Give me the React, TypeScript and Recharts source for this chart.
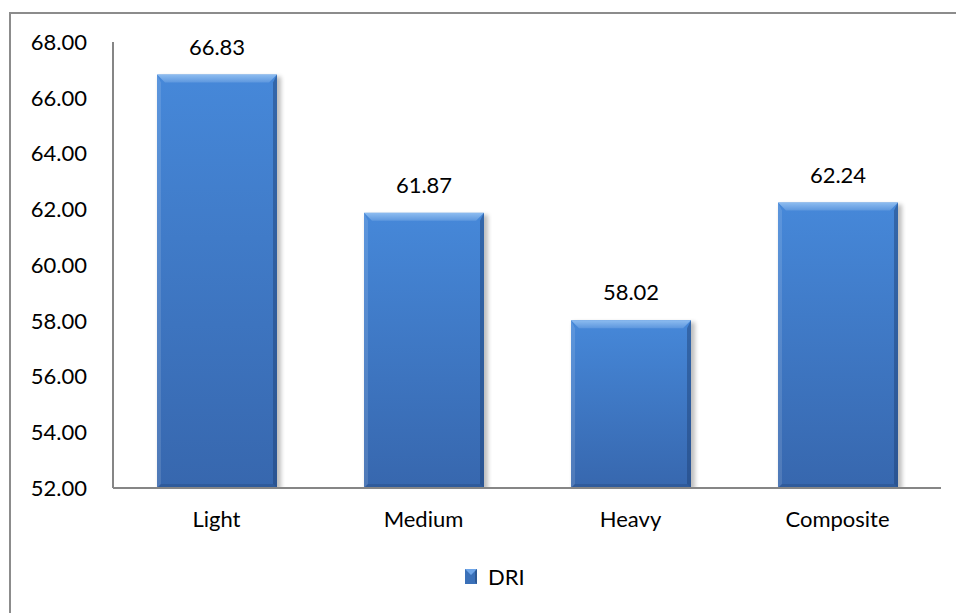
import { BarChart, Bar, XAxis, YAxis, LabelList } from 'recharts';

const categories = ['Light', 'Medium', 'Heavy', 'Composite'];
const driValues = [66.83, 61.87, 58.02, 62.24];
const yTicks = [52, 54, 56, 58, 60, 62, 64, 66, 68];
const seriesName = 'DRI';

const data = categories.map((name, i) => ({ name, DRI: driValues[i] }));

const FONT = 'Lato, "Open Sans", sans-serif';

const BevelBar = (props: any) => {
  const { x, y, width, height } = props;
  if (!height || height <= 0) return null;
  const b = 8;
  const s = 4;
  return (
    <g>
      <rect x={x + 2} y={y + 2} width={width + 2} height={height} fill="#000" opacity={0.25} filter="url(#barShadow)" />
      <rect x={x} y={y} width={width} height={height} fill="url(#barFill)" />
      <polygon points={`${x},${y} ${x + width},${y} ${x + width - b},${y + b} ${x + b},${y + b}`} fill="url(#bevelTop)" />
      <polygon points={`${x},${y} ${x + s},${y + b} ${x + s},${y + height - s} ${x},${y + height}`} fill="#ffffff" opacity={0.12} />
      <polygon points={`${x + width},${y} ${x + width - s},${y + b} ${x + width - s},${y + height - s} ${x + width},${y + height}`} fill="#1d3f70" opacity={0.45} />
      <polygon points={`${x},${y + height} ${x + s},${y + height - s} ${x + width - s},${y + height - s} ${x + width},${y + height}`} fill="#1d3f70" opacity={0.3} />
    </g>
  );
};

export default function App() {
  return (
    <div style={{ position: 'fixed', left: 0, top: 0, width: 956, height: 613, overflow: 'hidden', background: '#fff' }}>
      <div style={{ position: 'absolute', left: 9, top: 12, width: 1000, height: 700, border: '2px solid #8c8c8c' }} />
      <div style={{ position: 'absolute', left: 0, top: 0 }}>
        <BarChart width={956} height={613} data={data} margin={{ top: 42, right: 15, bottom: 95, left: 13 }}>
          <defs>
            <linearGradient id="barFill" x1="0" y1="0" x2="0" y2="1">
              <stop offset="0%" stopColor="#4688d9" />
              <stop offset="100%" stopColor="#3767ae" />
            </linearGradient>
            <linearGradient id="bevelTop" x1="0" y1="0" x2="0" y2="1">
              <stop offset="0%" stopColor="#8dbcf0" />
              <stop offset="100%" stopColor="#5d97de" />
            </linearGradient>
            <filter id="barShadow" x="-20%" y="-20%" width="140%" height="140%">
              <feGaussianBlur stdDeviation="2" />
            </filter>
          </defs>
          <XAxis
            dataKey="name"
            height={30}
            axisLine={{ stroke: '#868686', strokeWidth: 2 }}
            tickLine={false}
            tickSize={0}
            tickMargin={23}
            tick={{ fill: '#000', fontSize: 22, fontFamily: FONT }}
          />
          <YAxis
            width={100}
            domain={[52, 68]}
            ticks={yTicks}
            allowDataOverflow
            axisLine={{ stroke: '#868686', strokeWidth: 2 }}
            tickLine={false}
            tickSize={0}
            tickMargin={26}
            tickFormatter={(v: number) => v.toFixed(2)}
            tick={{ fill: '#000', fontSize: 22, fontFamily: FONT }}
          />
          <Bar dataKey="DRI" name={seriesName} barSize={120} shape={BevelBar} isAnimationActive={false}>
            <LabelList
              dataKey="DRI"
              position="top"
              offset={20}
              formatter={(v: number) => v.toFixed(2)}
              style={{ fill: '#000', fontSize: 22, fontFamily: FONT }}
            />
          </Bar>
        </BarChart>
      </div>
      <div style={{ position: 'absolute', left: 465, top: 563, display: 'flex', alignItems: 'center', fontFamily: FONT, fontSize: 22, color: '#000' }}>
        <svg width={12} height={15} style={{ marginRight: 11 }}>
          <rect x={0} y={0} width={12} height={15} fill="#3a70b8" />
          <polygon points="0,0 12,0 6,6" fill="#6ea5e8" />
          <polygon points="12,0 12,15 10,13 10,2" fill="#1d3f70" opacity={0.5} />
        </svg>
        <span>{seriesName}</span>
      </div>
    </div>
  );
}
